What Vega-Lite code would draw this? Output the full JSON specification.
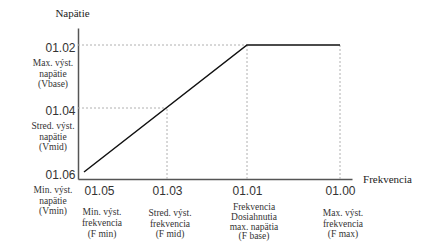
{
  "$schema": "https://vega.github.io/schema/vega-lite/v6.json",
  "width": 274,
  "height": 151,
  "autosize": "none",
  "padding": {"left": 78, "top": 28, "right": 72, "bottom": 73},
  "background": "white",
  "config": {"view": {"stroke": null}, "font": "Liberation Serif"},
  "datasets": {
    "curve": [
      {"f": 6, "v": 7},
      {"f": 169, "v": 134},
      {"f": 262, "v": 134}
    ],
    "guides": [
      {"f": 0, "f2": 169, "v": 134, "v2": 134},
      {"f": 0, "f2": 89, "v": 71, "v2": 71},
      {"f": 89, "f2": 89, "v": 0, "v2": 71},
      {"f": 169, "f2": 169, "v": 0, "v2": 134},
      {"f": 262, "f2": 262, "v": 0, "v2": 134}
    ],
    "ydesc": [
      {"f": 0, "v": 134, "t": "Max. výst.|napätie|(Vbase)"},
      {"f": 0, "v": 71, "t": "Stred. výst.|napätie|(Vmid)"},
      {"f": 0, "v": 7, "t": "Min. výst.|napätie|(Vmin)"}
    ],
    "xdescMin": [
      {"f": 6, "v": 0, "t": "Min. výst.|frekvencia|(F min)"}
    ],
    "xdesc": [
      {"f": 89, "v": 0, "t": "Stred. výst.|frekvencia|(F mid)"},
      {"f": 262, "v": 0, "t": "Max. výst.|frekvencia|(F max)"}
    ],
    "xdescBase": [
      {"f": 169, "v": 0, "t": "Frekvencia|Dosiahnutia|max. napätia|(F base)"}
    ]
  },
  "encoding": {
    "x": {
      "field": "f",
      "type": "quantitative",
      "scale": {"domain": [0, 274], "nice": false, "zero": false},
      "axis": {
        "title": "Frekvencia",
        "titleFont": "Liberation Serif",
        "titleFontSize": 11,
        "titleFontWeight": "normal",
        "titleColor": "#222",
        "titleAngle": 0,
        "titleAlign": "center",
        "titleBaseline": "middle",
        "titleX": 309,
        "titleY": 0,
        "values": [6, 89, 169, 262],
        "labelExpr": "datum.value == 6 ? '01.05' : datum.value == 89 ? '01.03' : datum.value == 169 ? '01.01' : '01.00'",
        "labelFont": "Liberation Sans",
        "labelFontSize": 12,
        "labelColor": "#333",
        "labelPadding": 6,
        "labelAlign": {"condition": {"test": "datum.value < 20", "value": "left"}, "value": "center"},
        "ticks": false,
        "grid": false,
        "domainColor": "#555",
        "domainWidth": 1.5
      }
    },
    "y": {
      "field": "v",
      "type": "quantitative",
      "scale": {"domain": [0, 151], "nice": false, "zero": false},
      "axis": {
        "title": "Napätie",
        "titleFont": "Liberation Serif",
        "titleFontSize": 11,
        "titleFontWeight": "normal",
        "titleColor": "#222",
        "titleAngle": 0,
        "titleAlign": "center",
        "titleBaseline": "middle",
        "titleX": -6,
        "titleY": -15,
        "values": [7, 71, 134],
        "labelExpr": "datum.value == 7 ? '01.06' : datum.value == 71 ? '01.04' : '01.02'",
        "labelFont": "Liberation Sans",
        "labelFontSize": 12,
        "labelColor": "#333",
        "labelPadding": 3,
        "labelOffset": 2,
        "ticks": false,
        "grid": false,
        "domainColor": "#555",
        "domainWidth": 1.5
      }
    }
  },
  "layer": [
    {
      "data": {"name": "guides"},
      "mark": {"type": "rule", "color": "#b0b0b0", "strokeDash": [2, 2], "strokeWidth": 1},
      "encoding": {
        "x2": {"field": "f2"},
        "y2": {"field": "v2"}
      }
    },
    {
      "data": {"name": "curve"},
      "mark": {"type": "line", "color": "#111", "strokeWidth": 1.5},
      "encoding": {}
    },
    {
      "data": {"name": "ydesc"},
      "mark": {"type": "text", "font": "Liberation Serif", "fontSize": 9.5, "color": "#333", "align": "center", "baseline": "top", "lineBreak": "|", "lineHeight": 10.5, "dx": -25, "dy": 13},
      "encoding": {
        "text": {"field": "t", "type": "nominal"}
      }
    },
    {
      "data": {"name": "xdescMin"},
      "mark": {"type": "text", "font": "Liberation Serif", "fontSize": 9.5, "color": "#333", "align": "center", "baseline": "top", "lineBreak": "|", "lineHeight": 11, "dx": 18, "dy": 28},
      "encoding": {
        "text": {"field": "t", "type": "nominal"}
      }
    },
    {
      "data": {"name": "xdesc"},
      "mark": {"type": "text", "font": "Liberation Serif", "fontSize": 9.5, "color": "#333", "align": "center", "baseline": "top", "lineBreak": "|", "lineHeight": 10.5, "dx": 3, "dy": 29},
      "encoding": {
        "text": {"field": "t", "type": "nominal"}
      }
    },
    {
      "data": {"name": "xdescBase"},
      "mark": {"type": "text", "font": "Liberation Serif", "fontSize": 9.5, "color": "#333", "align": "center", "baseline": "top", "lineBreak": "|", "lineHeight": 9.8, "dx": 7, "dy": 23},
      "encoding": {
        "text": {"field": "t", "type": "nominal"}
      }
    }
  ]
}
